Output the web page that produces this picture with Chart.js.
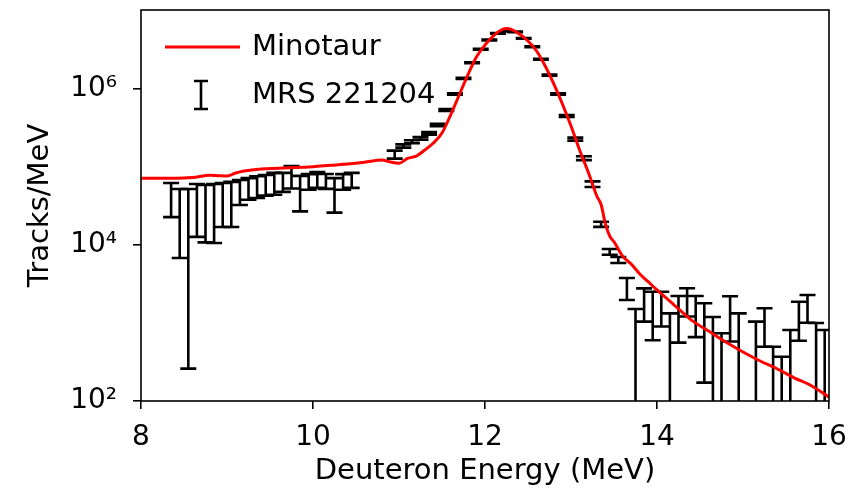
<!DOCTYPE html>
<html>
<head>
<meta charset="utf-8">
<script src="https://cdn.jsdelivr.net/npm/chart.js@4.4.1/dist/chart.umd.min.js"></script>
<style>
  html, body { margin: 0; padding: 0; background: #ffffff; }
  #wrap { width: 859px; height: 494px; }
</style>
</head>
<body>
<div id="wrap"><canvas id="chart" width="859" height="494"></canvas></div>
<script>
// Minotaur simulated deuteron spectrum (Tracks/MeV)
const minotaurEnergy = [8.0, 8.2, 8.4, 8.6, 8.8, 8.9, 9.0, 9.1, 9.2, 9.4, 9.6, 9.8, 10.0, 10.2, 10.4, 10.6, 10.8, 10.9,
  11.0, 11.1, 11.2, 11.3, 11.4, 11.5, 11.6, 11.7, 11.8, 11.9, 12.0, 12.1, 12.2, 12.25, 12.3, 12.4, 12.5, 12.6, 12.7,
  12.8, 12.9, 13.0, 13.1, 13.2, 13.3, 13.35, 13.4, 13.45, 13.5, 13.6, 13.7, 13.8, 13.9, 14.0, 14.2, 14.4, 14.6, 14.8,
  15.0, 15.2, 15.4, 15.6, 15.8, 16.0];
const minotaurValue = [71600, 71600, 71600, 73300, 78500, 77500, 76700, 83700, 88900, 94300, 96200, 98600, 101000,
  105000, 109000, 115000, 123000, 116000, 112000, 129000, 138000, 165000, 203000, 273000, 464000, 837000, 1510000,
  2570000, 3660000, 4840000, 5790000, 5970000, 5850000, 5070000, 4120000, 3070000, 1970000, 1160000, 642000, 336000,
  165000, 86300, 42500, 33000, 18600, 13000, 11000, 7200, 5700, 4250, 3360, 2650, 1700, 1090, 789, 570, 425, 326,
  257, 197, 156, 112];

// MRS 221204 measured spectrum: bin centres, values and 1-sigma errors (Tracks/MeV)
const mrsEnergy = [8.35, 8.45, 8.55, 8.65, 8.75, 8.85, 8.95, 9.05, 9.15, 9.25, 9.35, 9.45, 9.55, 9.65, 9.75, 9.85,
  9.95, 10.05, 10.15, 10.25, 10.35, 10.45, 10.95, 11.05, 11.15, 11.25, 11.35, 11.45, 11.55, 11.65, 11.75, 11.85,
  11.95, 12.05, 12.15, 12.25, 12.35, 12.45, 12.55, 12.65, 12.75, 12.85, 12.95, 13.05, 13.15, 13.25, 13.35, 13.45,
  13.55, 13.65, 13.75, 13.85, 13.95, 14.05, 14.15, 14.25, 14.35, 14.45, 14.55, 14.65, 14.75, 14.85, 14.95, 15.15,
  15.25, 15.35, 15.45, 15.55, 15.65, 15.75, 15.85, 15.95];
const mrsValue = [42600, 29500, 26240, 36600, 34800, 35600, 39700, 40700, 50400, 55000, 58000, 61000, 64000, 66000,
  78000, 52000, 66000, 70000, 67000, 49000, 66000, 69000, 145000, 186000, 211000, 233000, 270000, 345000, 538000,
  863000, 1370000, 2170000, 3230000, 4250000, 5180000, 5500000, 5400000, 4470000, 3480000, 2400000, 1510000, 863000,
  451000, 228000, 130000, 60500, 18500, 8200, 6450, 2870, 755, 1910, 1560, 1710, 665, 1390, 2000, 1440, 981, 597,
  369, 1390, 665, 520, 1020, 248, 185, 407, 1234, 1647, 500, 407];
const mrsError = [19800, 22700, 25980, 23900, 24000, 25000, 22700, 23700, 17800, 17000, 18000, 18000, 20000, 18000,
  25000, 25000, 15000, 16000, 14500, 23000, 15000, 15000, 17000, 9000, 9000, 9500, 10000, 12000, 15000, 20000, 25000,
  32000, 40000, 45000, 50000, 50000, 50000, 45000, 40000, 33000, 26000, 20000, 14000, 10000, 7500, 5000, 1400, 700,
  570, 900, 755, 870, 960, 810, 665, 830, 790, 780, 809, 597, 369, 810, 665, 520, 523, 248, 185, 407, 641, 638, 500,
  407];

const xTicks = [8, 10, 12, 14, 16];
const yTicks = [1e2, 1e4, 1e6];
const seriesNames = ['Minotaur', 'MRS 221204'];
const axisTitles = { x: 'Deuteron Energy (MeV)', y: 'Tracks/MeV' };

const FONT = '"DejaVu Sans", "Liberation Sans", sans-serif';
const SUP = { '0': '\u2070', '1': '\u00B9', '2': '\u00B2', '3': '\u00B3', '4': '\u2074',
  '5': '\u2075', '6': '\u2076', '7': '\u2077', '8': '\u2078', '9': '\u2079', '-': '\u207B' };
const CAP = 8;

// Error bars are drawn under the model curve, through the chart's own scales
const errorBarPlugin = {
  id: 'errorBars',
  beforeDatasetsDraw(chart) {
    const ds = chart.data.datasets[1];
    const xs = chart.scales.x, ys = chart.scales.y, a = chart.chartArea, ctx = chart.ctx;
    ctx.save();
    ctx.beginPath();
    ctx.rect(a.left, a.top, a.right - a.left, a.bottom - a.top);
    ctx.clip();
    ctx.strokeStyle = '#000000';
    ctx.lineWidth = 2.6;
    ctx.lineCap = 'butt';
    ds.data.forEach(p => {
      const px = xs.getPixelForValue(p.x);
      const hi = p.y + p.err, lo = p.y - p.err;
      const yTop = ys.getPixelForValue(hi);
      const yBot = lo > 0 ? ys.getPixelForValue(lo) : a.bottom + 20;
      ctx.beginPath();
      ctx.moveTo(px, yTop); ctx.lineTo(px, yBot);
      ctx.moveTo(px - CAP, yTop); ctx.lineTo(px + CAP, yTop);
      if (lo > 0) { ctx.moveTo(px - CAP, yBot); ctx.lineTo(px + CAP, yBot); }
      ctx.stroke();
    });
    ctx.restore();
  }
};

// Axes frame and the legend inside the plot area
const framePlugin = {
  id: 'frameAndLegend',
  afterDatasetsDraw(chart) {
    const { ctx, chartArea: a } = chart;
    ctx.save();
    ctx.strokeStyle = '#000000';
    ctx.lineWidth = 1.6;
    ctx.strokeRect(a.left, a.top, a.right - a.left, a.bottom - a.top);

    // legend: model line
    ctx.strokeStyle = chart.data.datasets[0].borderColor;
    ctx.lineWidth = 3;
    ctx.beginPath();
    ctx.moveTo(a.left + 24, a.top + 37);
    ctx.lineTo(a.left + 99, a.top + 37);
    ctx.stroke();

    // legend: error bar glyph
    const cx = a.left + 60, t = a.top + 71, b = a.top + 99;
    ctx.strokeStyle = '#000000';
    ctx.lineWidth = 2.6;
    ctx.beginPath();
    ctx.moveTo(cx, t); ctx.lineTo(cx, b);
    ctx.moveTo(cx - 7, t); ctx.lineTo(cx + 7, t);
    ctx.moveTo(cx - 7, b); ctx.lineTo(cx + 7, b);
    ctx.stroke();

    ctx.fillStyle = '#000000';
    ctx.font = '29px ' + FONT;
    ctx.textAlign = 'left';
    ctx.textBaseline = 'middle';
    ctx.fillText(seriesNames[0], a.left + 111, a.top + 37);
    ctx.fillText(seriesNames[1], a.left + 111, a.top + 85);
    ctx.restore();
  }
};

const tickStyle = { color: '#000000', font: { family: FONT, size: 28 } };
const gridStyle = { display: true, drawOnChartArea: false, drawTicks: true, tickLength: 8, color: '#000000', lineWidth: 1.6 };

new Chart(document.getElementById('chart'), {
  data: {
    datasets: [
      {
        type: 'line',
        label: seriesNames[0],
        data: minotaurEnergy.map((e, i) => ({ x: e, y: minotaurValue[i] })),
        borderColor: '#ff0000',
        borderWidth: 3,
        pointRadius: 0,
        fill: false,
        cubicInterpolationMode: 'monotone',
        order: 0
      },
      {
        type: 'scatter',
        label: seriesNames[1],
        data: mrsEnergy.map((e, i) => ({ x: e, y: mrsValue[i], err: mrsError[i] })),
        pointRadius: 0,
        borderColor: '#000000',
        order: 1
      }
    ]
  },
  options: {
    responsive: false,
    animation: false,
    devicePixelRatio: 1,
    layout: { padding: { left: 0, right: 30, top: 10, bottom: 0 } },
    plugins: { legend: { display: false }, tooltip: { enabled: false } },
    scales: {
      x: {
        type: 'linear',
        min: 8, max: 16,
        border: { display: false },
        grid: gridStyle,
        afterBuildTicks: s => { s.ticks = xTicks.map(v => ({ value: v })); },
        ticks: Object.assign({ padding: 12, maxRotation: 0 }, tickStyle),
        title: { display: true, text: axisTitles.x, color: '#000000', font: { family: FONT, size: 29 }, padding: { top: 0, bottom: 5 } },
        afterFit: s => { s.height = 93; s.paddingLeft = 0; s.paddingRight = 0; }
      },
      y: {
        type: 'logarithmic',
        min: 100, max: 1.03e7,
        border: { display: false },
        grid: gridStyle,
        afterBuildTicks: s => { s.ticks = yTicks.map(v => ({ value: v })); },
        ticks: Object.assign({
          padding: 16,
          callback: v => '10' + String(Math.round(Math.log10(v))).split('').map(d => SUP[d]).join('')
        }, tickStyle),
        title: { display: true, text: axisTitles.y, color: '#000000', font: { family: FONT, size: 29 }, padding: { top: 23, bottom: 0 } },
        afterFit: s => { s.width = 141; s.paddingTop = 0; s.paddingBottom = 0; }
      }
    }
  },
  plugins: [errorBarPlugin, framePlugin]
});
</script>
</body>
</html>
